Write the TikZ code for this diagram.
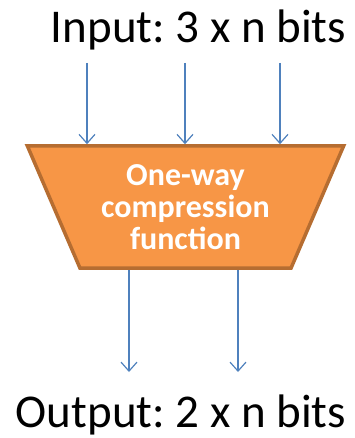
\documentclass[tikz,border=0pt]{standalone}
\usepackage{fontspec}
\setmainfont{Carlito}
\usepackage{xcolor}
\usetikzlibrary{arrows.meta, positioning, shapes.geometric}

\definecolor{fnfill}{HTML}{F79646}
\definecolor{fndraw}{HTML}{B66D31}
\definecolor{bitblue}{HTML}{4F81BD}

\begin{document}
\frenchspacing
\begin{tikzpicture}[
    x=1pt, y=-1pt,
    fnbox/.style={trapezium, shape border rotate=180, trapezium stretches=true,
        trapezium angle=63.8, minimum width=317pt, minimum height=122pt,
        fill=fnfill, draw=fndraw, line width=3.5pt, align=center, text=white,
        font=\fontsize{32}{32}\selectfont\bfseries, inner sep=0pt},
    label/.style={anchor=base, font=\fontsize{47}{56}\selectfont},
    bitarrow/.style={-{Straight Barb[length=9pt, width=16pt, line width=1.2pt]}, line width=1.2pt, draw=bitblue}
]
\useasboundingbox (0,0) rectangle (355,438);

% =============================================================
% Compression function block
% =============================================================
\node[fnbox] (fn) at (185.5,207) {One-way\\compression\\function};

% Labels
\node[label] (input) at (198.5,43) {Input: 3 x n bits};
\node[label] (output) at (181,427) {Output: 2 x n bits};

% =============================================================
% Input bits (3 x n) and output bits (2 x n)
% =============================================================
\coordinate (in1) at (87,63);
\coordinate (in2) at (185,63);
\coordinate (in3) at (280,63);
\coordinate (out1) at (129,372);
\coordinate (out2) at (238,372);

\foreach \i in {1,2,3}
    \draw[bitarrow] (in\i) -- (in\i |- fn.north);
\foreach \i in {1,2}
    \draw[bitarrow] (out\i |- fn.south) -- (out\i);

\end{tikzpicture}
\end{document}
